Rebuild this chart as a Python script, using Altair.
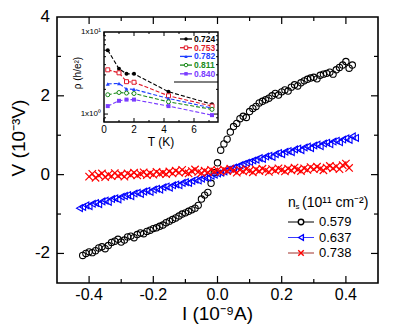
import altair as alt
import pandas as pd

# ---------------- main I-V data ----------------
I_black = [-0.42, -0.41, -0.40, -0.39, -0.38, -0.37, -0.36, -0.35, -0.34, -0.33,
           -0.32, -0.31, -0.30, -0.29, -0.28, -0.27, -0.26, -0.25, -0.24, -0.23,
           -0.22, -0.21, -0.20, -0.19, -0.18, -0.17, -0.16, -0.15, -0.14, -0.13,
           -0.12, -0.11, -0.10, -0.09, -0.08, -0.07, -0.06, -0.05, -0.04, -0.03,
           -0.02, -0.01, 0.00, 0.01, 0.02, 0.03, 0.04, 0.05, 0.06, 0.07,
           0.08, 0.09, 0.10, 0.11, 0.12, 0.13, 0.14, 0.15, 0.16, 0.17,
           0.18, 0.19, 0.20, 0.21, 0.22, 0.23, 0.24, 0.25, 0.26, 0.27,
           0.28, 0.29, 0.30, 0.31, 0.32, 0.33, 0.34, 0.35, 0.36, 0.37,
           0.38, 0.39, 0.40, 0.41, 0.42]
V_black = [-2.05, -2.00, -1.96, -1.98, -1.93, -1.86, -1.83, -1.88, -1.80, -1.72,
           -1.69, -1.64, -1.71, -1.66, -1.58, -1.56, -1.60, -1.52, -1.48, -1.50,
           -1.44, -1.41, -1.37, -1.35, -1.31, -1.28, -1.22, -1.18, -1.14, -1.10,
           -1.05, -1.00, -0.97, -0.93, -0.89, -0.85, -0.78, -0.62, -0.52, -0.45,
           -0.22, 0.05, 0.30, 0.62, 0.78, 0.90, 1.08, 1.22, 1.30, 1.42,
           1.48, 1.45, 1.60, 1.68, 1.73, 1.82, 1.86, 1.90, 1.94, 2.00,
           2.06, 2.02, 2.10, 2.15, 2.12, 2.22, 2.28, 2.25, 2.33, 2.38,
           2.42, 2.45, 2.47, 2.43, 2.52, 2.55, 2.57, 2.60, 2.55, 2.66,
           2.72, 2.78, 2.87, 2.70, 2.78]

I_blue = [-0.43, -0.42, -0.41, -0.40, -0.39, -0.38, -0.37, -0.36, -0.35, -0.34,
          -0.33, -0.32, -0.31, -0.30, -0.29, -0.28, -0.27, -0.26, -0.25, -0.24,
          -0.23, -0.22, -0.21, -0.20, -0.19, -0.18, -0.17, -0.16, -0.15, -0.14,
          -0.13, -0.12, -0.11, -0.10, -0.09, -0.08, -0.07, -0.06, -0.05, -0.04,
          -0.03, -0.02, -0.01, 0.00, 0.01, 0.02, 0.03, 0.04, 0.05, 0.06,
          0.07, 0.08, 0.09, 0.10, 0.11, 0.12, 0.13, 0.14, 0.15, 0.16,
          0.17, 0.18, 0.19, 0.20, 0.21, 0.22, 0.23, 0.24, 0.25, 0.26,
          0.27, 0.28, 0.29, 0.30, 0.31, 0.32, 0.33, 0.34, 0.35, 0.36,
          0.37, 0.38, 0.39, 0.40, 0.41, 0.42, 0.43]
V_blue = [-0.85, -0.82, -0.78, -0.80, -0.74, -0.72, -0.75, -0.68, -0.66, -0.69,
          -0.62, -0.60, -0.63, -0.56, -0.54, -0.52, -0.55, -0.48, -0.46, -0.49,
          -0.43, -0.41, -0.44, -0.38, -0.36, -0.38, -0.32, -0.30, -0.33, -0.27,
          -0.25, -0.27, -0.21, -0.19, -0.21, -0.16, -0.13, -0.15, -0.10, -0.07,
          -0.08, -0.03, 0.00, 0.03, 0.05, 0.08, 0.12, 0.15, 0.18, 0.20,
          0.24, 0.27, 0.30, 0.32, 0.36, 0.38, 0.42, 0.40, 0.46, 0.48,
          0.45, 0.52, 0.55, 0.52, 0.58, 0.60, 0.57, 0.64, 0.66, 0.62,
          0.69, 0.71, 0.67, 0.74, 0.76, 0.72, 0.79, 0.81, 0.77, 0.84,
          0.86, 0.82, 0.89, 0.92, 0.88, 0.97, 0.93]

I_red = [-0.40, -0.39, -0.38, -0.37, -0.36, -0.35, -0.34, -0.33, -0.32, -0.31,
         -0.30, -0.29, -0.28, -0.27, -0.26, -0.25, -0.24, -0.23, -0.22, -0.21,
         -0.20, -0.19, -0.18, -0.17, -0.16, -0.15, -0.14, -0.13, -0.12, -0.11,
         -0.10, -0.09, -0.08, -0.07, -0.06, -0.05, -0.04, -0.03, -0.02, -0.01,
         0.00, 0.01, 0.02, 0.03, 0.04, 0.05, 0.06, 0.07, 0.08, 0.09,
         0.10, 0.11, 0.12, 0.13, 0.14, 0.15, 0.16, 0.17, 0.18, 0.19,
         0.20, 0.21, 0.22, 0.23, 0.24, 0.25, 0.26, 0.27, 0.28, 0.29,
         0.30, 0.31, 0.32, 0.33, 0.34, 0.35, 0.36, 0.37, 0.38, 0.39,
         0.40, 0.41]
V_red = [-0.05, 0.02, -0.08, -0.02, 0.03, -0.06, 0.00, -0.04, 0.04, -0.03,
         0.01, -0.05, 0.03, -0.01, 0.05, -0.02, 0.02, 0.06, -0.01, 0.04,
         0.00, 0.07, 0.02, 0.05, 0.01, 0.08, 0.03, 0.10, 0.05, 0.12,
         0.06, 0.03, 0.09, 0.13, 0.07, 0.04, 0.10, 0.06, 0.12, 0.08,
         0.11, 0.07, 0.13, 0.09, 0.15, 0.10, 0.05, 0.12, 0.08, 0.14,
         0.10, 0.06, 0.13, 0.09, 0.15, 0.11, 0.07, 0.14, 0.10, 0.16,
         0.12, 0.08, 0.15, 0.11, 0.18, 0.13, 0.09, 0.16, 0.12, 0.19,
         0.14, 0.20, 0.15, 0.11, 0.18, 0.22, 0.16, 0.21, 0.14, 0.24,
         0.28, 0.17]

series_labels = ["0.579", "0.637", "0.738"]
series_colors = ["#000000", "#0000ff", "#ff0000"]
legend_line_colors = ["#000000", "#3a3aff", "#a0302a"]

# ---------------- inset data ----------------
T_inset = [0.25, 1.0, 1.5, 2.0, 4.3, 7.2]
rho_0724 = [6.0, 3.56, 3.09, 3.09, 1.87, 1.32]
rho_0753 = [3.46, 3.18, 2.48, 2.44, 1.67, 1.25]
rho_0782 = [2.33, 2.36, 2.02, 2.00, 1.55, 1.18]
rho_0811 = [1.72, 1.83, 1.80, 1.78, 1.41, 1.14]
rho_0840 = [1.25, 1.45, 1.50, 1.50, 1.25, 0.97]
inset_labels = ["0.724", "0.753", "0.782", "0.811", "0.840"]
inset_colors = ["#000000", "#e01a2a", "#1f3fff", "#1a8a1a", "#7a3cff"]
inset_shapes = ["circle", "square", "triangle-up", "circle", "square"]
inset_filled = [True, False, True, False, True]

# ---------------- ticks ----------------
x_ticks_major = [-0.4, -0.2, 0.0, 0.2, 0.4]
x_tick_labels = ["-0.4", "-0.2", "0.0", "0.2", "0.4"]
x_ticks_minor = [-0.3, -0.1, 0.1, 0.3]
y_ticks_major = [-2, 0, 2]
y_ticks_minor = [-1, 1, 3]
y_label_values = [-2, 0, 2, 4]
y_tick_labels = ["-2", "0", "2", "4"]
t_ticks_major = [0, 2, 4, 6]
t_ticks_minor = [1, 3, 5, 7]
t_tick_labels = ["0", "2", "4", "6"]
r_ticks_minor = [0.9, 2, 3, 4, 5, 6, 7, 8, 9]
r_ticks_major = [1]
r_tick_values = [1, 10]
r_tick_labels = ["1x10⁰", "1x10¹"]

FONT = "Liberation Sans"
W, H = 321, 266
xs = alt.Scale(domain=[-0.5, 0.5], nice=False, zero=False)
ys = alt.Scale(domain=[-2.75, 4], nice=False, zero=False)

# inset placement (pixels inside plot area)
IX0, IX1, IY0, IY1 = 47, 161, 15, 105
ts = alt.Scale(domain=[0, 7.6], range=[IX0, IX1], nice=False, zero=False)
rs = alt.Scale(type="log", domain=[0.8, 10], range=[IY1, IY0], nice=False)

one = pd.DataFrame({"a": [0]})

# ---------------- main layers ----------------
black = alt.Chart(pd.DataFrame({"I": I_black, "V": V_black})).mark_point(
    shape="circle", filled=False, color=series_colors[0], size=40, strokeWidth=1.1, opacity=1
).encode(x=alt.X("I:Q", scale=xs, axis=None), y=alt.Y("V:Q", scale=ys, axis=None))

blue = alt.Chart(pd.DataFrame({"I": I_blue, "V": V_blue})).mark_point(
    shape="triangle-left", filled=False, color=series_colors[1], size=45, strokeWidth=1.1, opacity=1
).encode(x=alt.X("I:Q", scale=xs, axis=None), y=alt.Y("V:Q", scale=ys, axis=None))

XPATH = "M-1,-1L1,1M-1,1L1,-1"
red = alt.Chart(pd.DataFrame({"I": I_red, "V": V_red})).mark_point(
    shape=XPATH, filled=False, color=series_colors[2], size=55, strokeWidth=1.2, opacity=1
).encode(x=alt.X("I:Q", scale=xs, axis=None), y=alt.Y("V:Q", scale=ys, axis=None))


def xticks(vals, scale, y0, y1, sw=1.2):
    return alt.Chart(pd.DataFrame({"v": vals})).mark_rule(color="black", strokeWidth=sw).encode(
        x=alt.X("v:Q", scale=scale, axis=None), y=alt.value(y0), y2=alt.value(y1))


def yticks(vals, scale, x0, x1, sw=1.2):
    return alt.Chart(pd.DataFrame({"v": vals})).mark_rule(color="black", strokeWidth=sw).encode(
        y=alt.Y("v:Q", scale=scale, axis=None), x=alt.value(x0), x2=alt.value(x1))


def txt(s, x, y, size, color="black", align="left", weight="normal", angle=0, baseline="middle"):
    return alt.Chart(one).mark_text(text=s, fontSize=size, color=color, align=align,
                                    fontWeight=weight, angle=angle, baseline=baseline).encode(
        x=alt.value(x), y=alt.value(y))


xlabels = alt.Chart(pd.DataFrame({"v": x_ticks_major, "s": x_tick_labels})).mark_text(
    fontSize=16, baseline="top", color="black"
).encode(x=alt.X("v:Q", scale=xs, axis=None), y=alt.value(H + 4), text="s:N")
ylabels = alt.Chart(pd.DataFrame({"v": y_label_values, "s": y_tick_labels})).mark_text(
    fontSize=17, align="right", baseline="middle", color="black"
).encode(y=alt.Y("v:Q", scale=ys, axis=None), x=alt.value(-7), text="s:N")

main = alt.layer(
    black, blue, red,
    xticks(x_ticks_major, xs, H, H - 7), xticks(x_ticks_minor, xs, H, H - 4),
    xticks(x_ticks_major, xs, 0, 7), xticks(x_ticks_minor, xs, 0, 4),
    yticks(y_ticks_major, ys, 0, 7), yticks(y_ticks_minor, ys, 0, 4),
    yticks(y_ticks_major, ys, W, W - 7), yticks(y_ticks_minor, ys, W, W - 4),
    xlabels, ylabels,
)

# ---------------- inset layers ----------------
frame = alt.Chart(pd.DataFrame({"t0": [0], "t1": [7.6], "r0": [0.8], "r1": [10]})).mark_rect(
    fill="white", stroke="black", strokeWidth=1.4
).encode(x=alt.X("t0:Q", scale=ts, axis=None), x2="t1:Q",
         y=alt.Y("r0:Q", scale=rs, axis=None), y2="r1:Q")

inset_layers = [frame]
for lab, col, shp, fil, rho in zip(inset_labels, inset_colors, inset_shapes, inset_filled,
                                   [rho_0724, rho_0753, rho_0782, rho_0811, rho_0840]):
    d = pd.DataFrame({"T": T_inset, "rho": rho})
    base = alt.Chart(d).encode(x=alt.X("T:Q", scale=ts, axis=None),
                               y=alt.Y("rho:Q", scale=rs, axis=None))
    inset_layers.append(base.mark_line(color=col, strokeWidth=1.1, strokeDash=[4, 2]))
    inset_layers.append(base.mark_point(shape=shp, filled=fil, color=col, size=16,
                                        strokeWidth=1, opacity=1,
                                        fill=col if fil else "white"))

inset_layers += [
    xticks(t_ticks_major, ts, IY1, IY1 - 4, 1), xticks(t_ticks_minor, ts, IY1, IY1 - 2, 1),
    xticks(t_ticks_major, ts, IY0, IY0 + 4, 1), xticks(t_ticks_minor, ts, IY0, IY0 + 2, 1),
    yticks(r_ticks_major, rs, IX0, IX0 + 4, 1), yticks(r_ticks_minor, rs, IX0, IX0 + 2, 1),
    yticks(r_ticks_major, rs, IX1, IX1 - 4, 1), yticks(r_ticks_minor, rs, IX1, IX1 - 2, 1),
    alt.Chart(pd.DataFrame({"v": t_ticks_major, "s": t_tick_labels})).mark_text(
        fontSize=10, baseline="top", color="black"
    ).encode(x=alt.X("v:Q", scale=ts, axis=None), y=alt.value(IY1 + 3), text="s:N"),
    alt.Chart(pd.DataFrame({"v": r_tick_values, "s": r_tick_labels})).mark_text(
        fontSize=8, align="right", baseline="middle", color="black"
    ).encode(y=alt.Y("v:Q", scale=rs, axis=None), x=alt.value(IX0 - 3), text="s:N"),
]
inset = alt.layer(*inset_layers)

# ---------------- decorations (titles / legends) ----------------
deco = []
deco.append(txt("I (10⁻⁹A)", W / 2, H + 31, 19, align="center"))
deco.append(txt("V (10⁻³V)", -38, 121, 19, align="center", angle=270))
deco.append(txt("T (K)", (IX0 + IX1) / 2, IY1 + 20, 12, align="center"))
deco.append(txt("ρ (h/e²)", IX0 - 26, (IY0 + IY1) / 2 - 4, 10, align="center", angle=270))

# inset legend
for i, (lab, col, shp, fil) in enumerate(zip(inset_labels, inset_colors, inset_shapes, inset_filled)):
    yy = IY0 + 7 + i * 8.7
    deco.append(alt.Chart(one).mark_rule(color=col, strokeWidth=1.3).encode(
        x=alt.value(IX1 - 38), x2=alt.value(IX1 - 26), y=alt.value(yy)))
    deco.append(alt.Chart(one).mark_point(shape=shp, filled=fil, color=col, size=12, opacity=1,
                                          strokeWidth=1, fill=col if fil else "white").encode(
        x=alt.value(IX1 - 32), y=alt.value(yy)))
    deco.append(txt(lab, IX1 - 24, yy, 8.5, color=col, weight="bold"))
deco.append(alt.Chart(one).mark_rule(color="black", strokeWidth=1).encode(
    x=alt.value(IX1 - 44), x2=alt.value(IX1), y=alt.value(IY0 + 50)))

# main legend
LX = 231
deco.append(txt("n", LX, 186, 14))
deco.append(txt("s", LX + 7.5, 190, 8))
deco.append(txt("(10¹¹ cm⁻²)", LX + 14, 186, 14))
main_shapes = ["circle", "triangle-left", XPATH]
for i, (lab, col, lcol, shp) in enumerate(zip(series_labels, series_colors, legend_line_colors, main_shapes)):
    yy = 205 + i * 15.5
    deco.append(alt.Chart(one).mark_rule(color=lcol, strokeWidth=1).encode(
        x=alt.value(LX), x2=alt.value(LX + 26), y=alt.value(yy)))
    deco.append(alt.Chart(one).mark_point(shape=shp, filled=False, color=col, size=30,
                                          strokeWidth=1.4, opacity=1, fill="white").encode(
        x=alt.value(LX + 13), y=alt.value(yy)))
    deco.append(txt(lab, LX + 31, yy, 13))

chart = alt.layer(main, inset, *deco).resolve_scale(x="independent", y="independent").properties(
    width=W, height=H,
    padding={"left": 49, "top": 9, "right": 20, "bottom": 48},
    autosize=alt.AutoSizeParams(type="none"),
).configure(font=FONT).configure_view(stroke="black", strokeWidth=1.6)

chart.save("out.html", embed_options={"renderer": "svg", "actions": False})
